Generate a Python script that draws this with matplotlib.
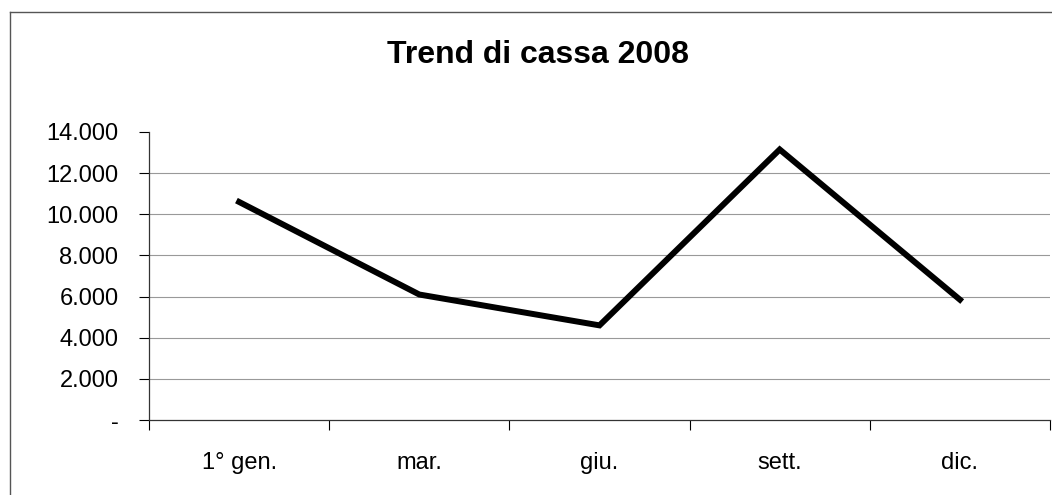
import matplotlib
matplotlib.use("Agg")

import matplotlib.pyplot as plt
import matplotlib.ticker as mticker
from matplotlib.lines import Line2D

# ── Data ────────────────────────────────────────────────────────────────────
months = ["1° gen.", "mar.", "giu.", "sett.", "dic."]
cassa = [10600, 6100, 4600, 13150, 5850]
y_ticks = [0, 2000, 4000, 6000, 8000, 10000, 12000, 14000]

plt.rcParams.update({
    "font.family": ["Liberation Sans", "DejaVu Sans"],
    "font.size": 17,
})


def fmt_thousands(v, pos):
    if v == 0:
        return "-"
    return f"{int(v):,}".replace(",", ".")


fig = plt.figure(figsize=(10.52, 4.95), dpi=100)
ax = fig.add_axes([149 / 1052, 1 - 420 / 495, (1050 - 149) / 1052, (420 - 132) / 495])

x = list(range(len(months)))
ax.plot(x, cassa, color="black", lw=4.3, solid_joinstyle="miter", zorder=3)

ax.set_xlim(-0.5, len(months) - 0.5)
ax.set_ylim(0, 14000)

# gridlines (no line at the top value)
for v in y_ticks[1:-1]:
    ax.axhline(v, color="#999999", lw=0.8, zorder=1)

ax.set_yticks(y_ticks)
ax.yaxis.set_major_formatter(mticker.FuncFormatter(fmt_thousands))

# category labels centred, tick marks on boundaries
ax.set_xticks([i - 0.5 for i in range(len(months) + 1)])
ax.set_xticklabels([""] * (len(months) + 1))
ax.set_xticks(x, minor=True)
ax.set_xticklabels(months, minor=True)
ax.tick_params(axis="x", which="minor", length=0, pad=23, labelsize=17)
ax.tick_params(axis="x", which="major", length=7, width=0.8, direction="out")
ax.tick_params(axis="y", length=7, width=0.8, direction="out", pad=15, labelsize=17)

for side in ["top", "right"]:
    ax.spines[side].set_visible(False)
ax.spines["left"].set_color("#333333")
ax.spines["bottom"].set_color("#333333")
ax.spines["left"].set_linewidth(0.9)
ax.spines["bottom"].set_linewidth(0.9)

fig.text(538 / 1052, 1 - 55 / 495, "Trend di cassa 2008", ha="center", va="center",
         fontsize=23, fontweight="bold")

# outer chart border (left and top edges)
fig.add_artist(Line2D([10 / 1052, 10 / 1052], [0, 1 - 12 / 495], color="#555555", lw=1))
fig.add_artist(Line2D([10 / 1052, 1], [1 - 12 / 495, 1 - 12 / 495], color="#555555", lw=1))

fig.savefig("out.png", dpi=100, facecolor="white")
